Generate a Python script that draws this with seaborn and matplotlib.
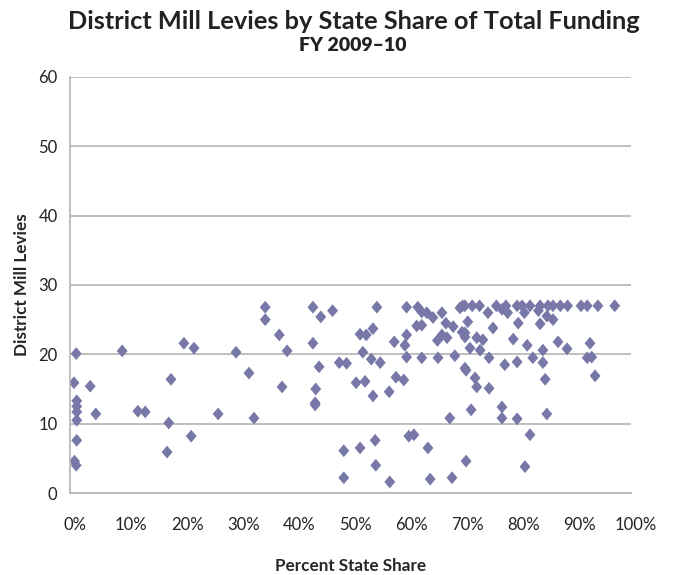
import matplotlib
matplotlib.use("Agg")
import matplotlib.pyplot as plt
import matplotlib.transforms as mtransforms
import seaborn as sns
import pandas as pd
from matplotlib.ticker import PercentFormatter

# state share of total funding (fraction) and district mill levies
state_share = [
    0.007, 0.011, 0.012, 0.012, 0.012, 0.012, 0.012, 0.008, 0.011,
    0.036, 0.046, 0.093, 0.121, 0.134, 0.173, 0.176, 0.180, 0.203, 0.216, 0.221,
    0.264, 0.296, 0.319, 0.328, 0.348, 0.348, 0.373, 0.378, 0.387,
    0.433, 0.447, 0.468, 0.547, 0.433, 0.444, 0.438, 0.437,
    0.493, 0.510, 0.526, 0.540, 0.517, 0.528, 0.540, 0.522, 0.537, 0.553,
    0.578, 0.597, 0.600, 0.600, 0.569, 0.581, 0.595,
    0.600, 0.620, 0.627, 0.636, 0.618, 0.627, 0.647, 0.663, 0.627, 0.656,
    0.663, 0.672, 0.683, 0.670, 0.686, 0.695, 0.700, 0.699, 0.704, 0.706,
    0.704, 0.717, 0.730, 0.760, 0.777, 0.797, 0.806, 0.820, 0.838, 0.852,
    0.861, 0.874, 0.887, 0.911, 0.922, 0.941, 0.971,
    0.709, 0.754, 0.799, 0.838, 0.861, 0.704, 0.725, 0.736, 0.790, 0.815,
    0.870, 0.886, 0.927, 0.713, 0.731, 0.747, 0.775, 0.797, 0.825, 0.843,
    0.843, 0.922, 0.930, 0.704, 0.722, 0.725, 0.747, 0.847, 0.936,
    0.437, 0.677, 0.715, 0.770, 0.770, 0.797, 0.850,
    0.488, 0.517, 0.544, 0.604, 0.613, 0.638, 0.820,
    0.545, 0.706, 0.811, 0.488, 0.570, 0.642, 0.681,
    0.810, 0.835, 0.850, 0.745, 0.770, 0.780, 0.480, 0.655,
]
mill_levies = [
    15.9, 20.1, 13.3, 12.5, 11.7, 10.5, 7.6, 4.6, 4.0,
    15.4, 11.4, 20.5, 11.8, 11.7, 5.9, 10.1, 16.4, 21.6, 8.2, 20.9,
    11.4, 20.3, 17.3, 10.8, 26.8, 25.0, 22.8, 15.3, 20.5,
    26.8, 25.4, 26.3, 26.8, 21.6, 18.2, 15.0, 13.0,
    18.7, 15.9, 16.1, 14.0, 22.9, 22.8, 23.7, 20.3, 19.3, 18.8,
    21.8, 21.3, 22.8, 19.6, 14.6, 16.7, 16.3,
    26.8, 26.8, 26.1, 26.0, 24.1, 24.2, 25.3, 26.0, 19.5, 19.5,
    22.8, 22.4, 24.0, 24.5, 19.8, 26.7, 27.0, 23.2, 22.5, 17.7,
    27.0, 27.0, 27.0, 27.0, 27.0, 27.0, 27.0, 27.0, 27.0, 27.0,
    27.0, 27.0, 27.0, 27.0, 27.0, 27.0, 27.0,
    24.7, 23.8, 24.5, 24.4, 25.0, 23.1, 22.4, 22.1, 22.2, 21.3,
    21.8, 20.8, 21.6, 20.9, 20.6, 19.5, 18.5, 18.9, 19.5, 20.6,
    18.8, 19.5, 19.6, 18.0, 16.6, 15.3, 15.1, 16.4, 16.9,
    12.7, 10.8, 12.0, 12.4, 10.8, 10.7, 11.4,
    6.1, 6.5, 7.6, 8.2, 8.4, 6.5, 8.4,
    4.0, 4.6, 3.8, 2.2, 1.6, 2.0, 2.2,
    26.0, 26.3, 25.5, 26.0, 26.5, 26.0, 18.8, 22.0,
]
df = pd.DataFrame({"share": state_share, "levy": mill_levies})

sns.set_style("white")
plt.rcParams["font.family"] = ["Lato", "DejaVu Sans"]

fig = plt.figure(figsize=(6.74, 5.75), dpi=100)
ax = fig.add_axes([0.1039, 0.1426, 0.8323, 0.7235])

diamond = [(0, 1), (0.85, 0), (0, -1), (-0.85, 0), (0, 1)]
sns.scatterplot(data=df, x="share", y="levy", ax=ax, marker=diamond,
                s=85, color="#7878a8", edgecolor="none", linewidth=0)

ax.set_xlim(0, 1)
ax.set_ylim(0, 60)
ax.set_xticks([i / 10 for i in range(11)])
ax.set_yticks(range(0, 61, 10))
ax.xaxis.set_major_formatter(PercentFormatter(1.0, decimals=0))
ax.yaxis.grid(True, color="#b4b4b4", linewidth=1.2)
ax.xaxis.grid(False)
ax.set_axisbelow(True)
for side in ["top", "right"]:
    ax.spines[side].set_visible(False)
for side in ["left", "bottom"]:
    ax.spines[side].set_color("#b4b4b4")
    ax.spines[side].set_linewidth(1.2)
ax.tick_params(axis="x", length=0, pad=17, labelsize=12, colors="#222222")
ax.tick_params(axis="y", length=0, pad=9, labelsize=12, colors="#222222")
# the x labels sit a few pixels right of their ticks in the original
shift = mtransforms.ScaledTranslation(5 / 100, 0, fig.dpi_scale_trans)
for lab in ax.get_xticklabels():
    lab.set_transform(lab.get_transform() + shift)

ax.set_xlabel("Percent State Share", fontsize=12.3, fontweight="bold", labelpad=18)
ax.set_ylabel("District Mill Levies", fontsize=12.3, fontweight="bold", labelpad=6)

fig.text(0.525, 0.962, "District Mill Levies by State Share of Total Funding",
         ha="center", va="center", fontsize=18.3, fontweight="bold", color="#222222")
fig.text(0.523, 0.921, "FY 2009\u201310", ha="center", va="center",
         fontsize=14, fontweight="heavy", color="#222222")

fig.savefig("out.png", dpi=100)
